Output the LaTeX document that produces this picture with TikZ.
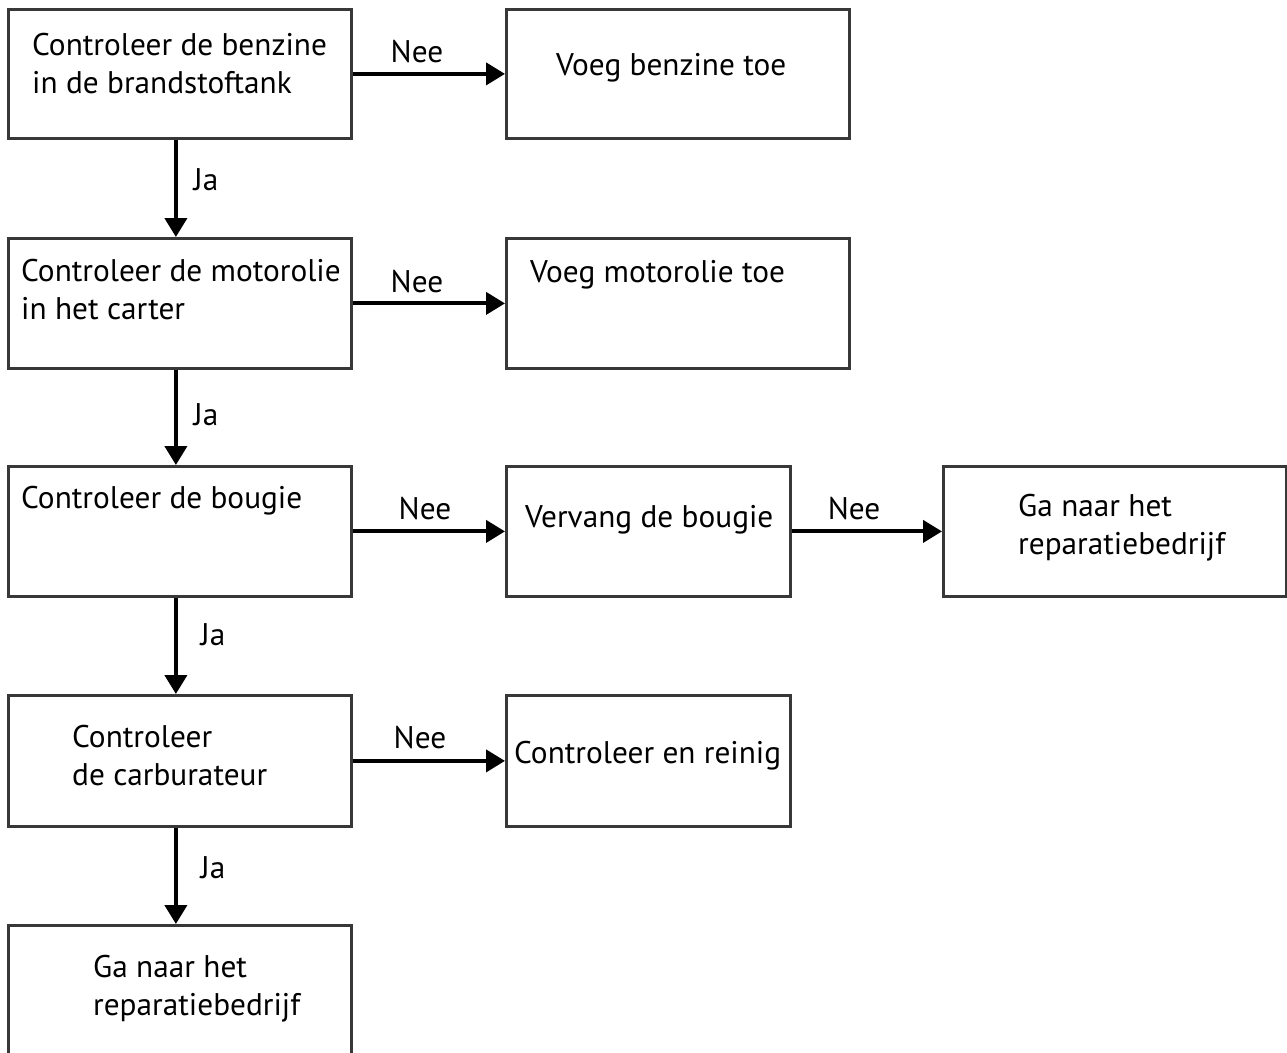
\documentclass[tikz,border=0pt]{standalone}
\usepackage{fontspec}
\setmainfont{PT Sans}
\usetikzlibrary{arrows.meta}

\begin{document}
\begin{tikzpicture}[x=1pt,y=-1pt,
    stap/.style={draw=black!78,line width=2.8pt,fill=white,inner sep=0pt,anchor=north west},
    tekst/.style={anchor=base west,inner sep=0pt,align=left,font=\fontsize{31.3}{38}\selectfont},
    lbl/.style={anchor=base,inner sep=0pt,font=\fontsize{31.3}{38}\selectfont},
    pijl/.style={line width=4pt,-{Triangle[length=19pt,width=22pt]}}]
		%%%%% START %%%%%
		\useasboundingbox (0,0) rectangle (1287,1052);
		
		% linker kolom
		\node[stap,minimum width=343pt,minimum height=129pt] (b1) at (7,8) {};
		\node[stap,minimum width=343pt,minimum height=130pt] (b3) at (7,237) {};
		\node[stap,minimum width=343pt,minimum height=130pt] (b5) at (7,465) {};
		\node[stap,minimum width=343pt,minimum height=131pt] (b8) at (7,694) {};
		\node[stap,minimum width=343pt,minimum height=140pt] (b10) at (7,924) {};
		
		% rechter kolommen
		\node[stap,minimum width=343pt,minimum height=129pt] (b2) at (505,8) {};
		\node[stap,minimum width=343pt,minimum height=130pt] (b4) at (505,237) {};
		\node[stap,minimum width=284pt,minimum height=130pt] (b6) at (505,465) {};
		\node[stap,minimum width=343pt,minimum height=130pt] (b7) at (942,465) {};
		\node[stap,minimum width=284pt,minimum height=131pt] (b9) at (505,694) {};
		
		% teksten (base = laatste regel)
		\node[tekst] (t1) at (32,93) {Controleer de benzine\\in de brandstoftank};
		\node[tekst] (t2) at (556,75) {Voeg benzine toe};
		\node[tekst] (t3) at (21,319) {Controleer de motorolie\\in het carter};
		\node[tekst] (t4) at (530,282) {Voeg motorolie toe};
		\node[tekst] (t5) at (21,508) {Controleer de bougie};
		\node[tekst] (t6) at (525,527) {Vervang de bougie};
		\node[tekst] (t7) at (1018,554) {Ga naar het\\reparatiebedrijf};
		\node[tekst] (t8) at (72,785) {Controleer\\de carburateur};
		\node[tekst] (t9) at (514,763) {Controleer en reinig};
		\node[tekst] (t10) at (93,1015) {Ga naar het\\reparatiebedrijf};
		
		% pijlen Nee
		\draw[pijl] (b1.east) -- (b2.west);
		\draw[pijl] (b3.east) -- (b4.west);
		\draw[pijl] (b5.east) -- (b6.west);
		\draw[pijl] (b6.east) -- (b7.west);
		\draw[pijl] (b8.east) -- (b9.west);
		\node[lbl] (n1) at (417,62) {Nee};
		\node[lbl] (n2) at (417,292) {Nee};
		\node[lbl] (n3) at (425,519) {Nee};
		\node[lbl] (n4) at (854,519) {Nee};
		\node[lbl] (n5) at (420,748) {Nee};
		
		% pijlen Ja
		\draw[pijl] ([xshift=-4pt]b1.south) -- ([xshift=-4pt]b3.north);
		\draw[pijl] ([xshift=-4pt]b3.south) -- ([xshift=-4pt]b5.north);
		\draw[pijl] ([xshift=-4pt]b5.south) -- ([xshift=-4pt]b8.north);
		\draw[pijl] ([xshift=-4pt]b8.south) -- ([xshift=-4pt]b10.north);
		\node[lbl] (j1) at (206,190) {Ja};
		\node[lbl] (j2) at (206,425) {Ja};
		\node[lbl] (j3) at (213,645) {Ja};
		\node[lbl] (j4) at (213,878) {Ja};
		%%%%% END %%%%%
\end{tikzpicture}
\end{document}
